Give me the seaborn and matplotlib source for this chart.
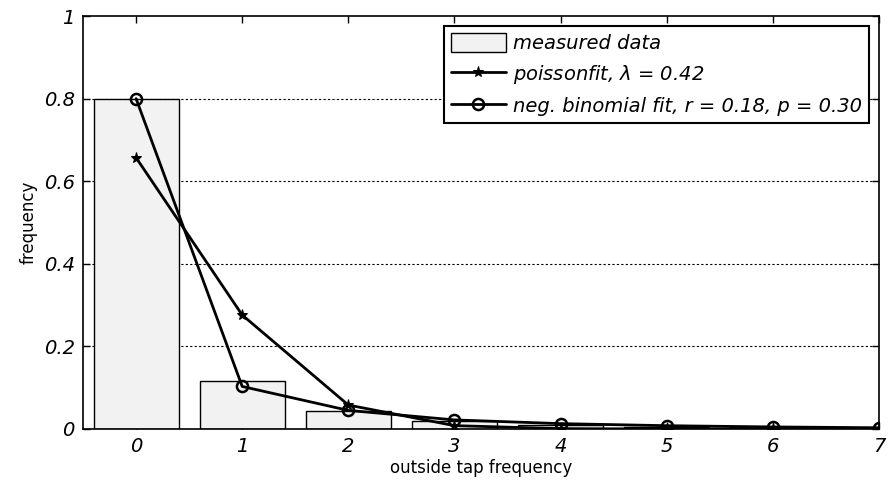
import matplotlib
matplotlib.use("Agg")
import matplotlib.pyplot as plt
import seaborn as sns
import pandas as pd
import numpy as np

categories = [0, 1, 2, 3, 4, 5, 6, 7]
measured = [0.80, 0.116, 0.044, 0.019, 0.010, 0.006, 0.004, 0.002]
poisson = [0.657, 0.276, 0.058, 0.0081, 0.00085, 0.00007, 0.000005, 0.0000003]
negbin = [0.80, 0.103, 0.045, 0.022, 0.013, 0.008, 0.005, 0.003]
ytick_vals = [0, 0.2, 0.4, 0.6, 0.8, 1.0]
ytick_labels = ["0", "0.2", "0.4", "0.6", "0.8", "1"]

sns.set_theme(style="white")
plt.rcParams['font.family'] = ['DejaVu Sans']
plt.rcParams['text.color'] = 'black'
plt.rcParams['axes.labelcolor'] = 'black'
plt.rcParams['xtick.color'] = 'black'
plt.rcParams['ytick.color'] = 'black'

fig = plt.figure(figsize=(8.9, 4.88), dpi=100)
ax = fig.add_axes([83/890, 1 - 429/488, (879-83)/890, (429-16)/488])

df = pd.DataFrame({"x": categories, "measured": measured,
                   "poisson": poisson, "negbin": negbin})

sns.barplot(data=df, x="x", y="measured", ax=ax, color="#f2f2f2",
            edgecolor="black", linewidth=1.0, width=0.8, saturation=1,
            native_scale=True, label="measured data")
sns.lineplot(data=df, x="x", y="poisson", ax=ax, color="black", lw=2,
             marker="*", markersize=8, markeredgecolor="black",
             label="poissonfit, $\\lambda$ = 0.42")
sns.lineplot(data=df, x="x", y="negbin", ax=ax, color="black", lw=2,
             marker="o", markersize=8, markerfacecolor="none",
             markeredgecolor="black", markeredgewidth=1.8,
             label="neg. binomial fit, r = 0.18, p = 0.30")

ax.set_xlim(-0.5, 7)
ax.set_ylim(0, 1)
ax.set_xticks(categories)
ax.set_xticklabels([str(c) for c in categories], fontsize=14, style="italic")
ax.set_yticks(ytick_vals)
ax.set_yticklabels(ytick_labels, fontsize=14, style="italic")
for v in ytick_vals[1:-1]:
    ax.axhline(v, color="black", lw=0.8, ls=(0, (2, 2)), zorder=0)
ax.tick_params(direction="in", length=5, width=1, top=True, right=True,
               bottom=True, left=True, colors="black", pad=6)
for s in ax.spines.values():
    s.set_color("black")
    s.set_linewidth(1.2)
ax.set_xlabel("outside tap frequency", fontsize=12, labelpad=2)
ax.set_ylabel("frequency", fontsize=12, labelpad=4)

handles, labels = ax.get_legend_handles_labels()
order = [labels.index("measured data")] + [i for i, l in enumerate(labels) if l != "measured data"]
leg = ax.legend([handles[i] for i in order], [labels[i] for i in order],
                loc="upper right", frameon=True, fancybox=False,
                edgecolor="black", framealpha=1, borderpad=0.35,
                handlelength=2.8, handleheight=1.2, labelspacing=0.5,
                borderaxespad=0.5, handletextpad=0.4,
                prop={"style": "italic", "size": 14})
leg.get_frame().set_linewidth(1.5)

fig.savefig("out.png", dpi=100)
